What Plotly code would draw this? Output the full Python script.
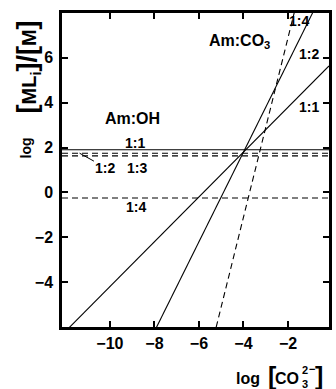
import numpy as np
import plotly.graph_objects as go

# ---- data ----
x_range = [-12.15, -0.16]
y_range = [-6, 8]
x_ticks = [-10, -8, -6, -4, -2]
y_ticks = [-4, -2, 0, 2, 4, 6]

# Am:CO3 complexes: log([ML_n]/[M]) = log_beta_n + n*log[CO3]
co3_labels = ["1:1", "1:2", "1:4"]
co3_n = [1, 2, 4]
co3_logbeta = [5.8, 9.8, 14.9]
co3_dash = ["solid", "solid", "dash"]

# Am:OH complexes: constant levels
oh_labels = ["1:1", "1:2", "1:3", "1:4"]
oh_level = [1.9, 1.75, 1.63, -0.25]
oh_dash = ["solid", "dash", "dash", "dash"]

FONT = "Liberation Sans, Arial, sans-serif"
W, H = 336, 389
L, R, T, B = 62, 4, 13, 62

fig = go.Figure()
xs = np.array(x_range)
for lab, n, lb, d in zip(co3_labels, co3_n, co3_logbeta, co3_dash):
    fig.add_trace(go.Scatter(x=xs, y=lb + n * xs, mode="lines", name="CO3 " + lab,
                             line=dict(color="black", width=1.1,
                                       dash="6px,4px" if d == "dash" else "solid")))
for lab, lv, d in zip(oh_labels, oh_level, oh_dash):
    fig.add_trace(go.Scatter(x=xs, y=[lv, lv], mode="lines", name="OH " + lab,
                             line=dict(color="black", width=1.1,
                                       dash="6px,4px" if d == "dash" else "solid")))

tf = dict(family=FONT, size=16, color="black", weight="bold")
axis_common = dict(showline=True, linewidth=2.5, linecolor="black", mirror="ticks",
                   ticks="inside", ticklen=6, tickwidth=1.5, tickcolor="black",
                   showgrid=False, zeroline=False, tickfont=tf)
fig.update_xaxes(range=x_range, tickvals=x_ticks, ticklabelstandoff=0, **axis_common)
fig.update_yaxes(range=y_range, tickvals=y_ticks, ticklabelstandoff=3, **axis_common)

def px2paper(px, py):
    return (px - L) / (W - L - R), (H - B - py) / (H - T - B)

ann = []
lab_font = dict(family=FONT, size=14, color="black", weight="bold")
big_font = dict(family=FONT, size=16, color="black", weight="bold")
# in-plot labels (data coordinates)
ann.append(dict(x=-9.0, y=3.3, text="Am:OH", font=big_font))
ann.append(dict(x=-8.87, y=2.22, text=oh_labels[0], font=lab_font))
ann.append(dict(x=-11.36, y=oh_level[1], ax=-10.2, ay=1.11, axref="x", ayref="y",
                text=oh_labels[1], font=lab_font, showarrow=True, arrowhead=0,
                arrowwidth=1, arrowcolor="black", standoff=0))
ann.append(dict(x=-8.8, y=1.11, text=oh_labels[2], font=lab_font))
ann.append(dict(x=-8.83, y=-0.67, text=oh_labels[3], font=lab_font))
ann.append(dict(x=-4.2, y=6.75, text="Am:CO<sub>3</sub>", font=big_font))
ann.append(dict(x=-1.5, y=7.64, text=co3_labels[2], font=lab_font))
ann.append(dict(x=-1.07, y=6.16, text=co3_labels[1], font=lab_font))
ann.append(dict(x=-1.05, y=3.79, text=co3_labels[0], font=lab_font))
for a in ann:
    a.setdefault("showarrow", False)
    a.setdefault("xref", "x")
    a.setdefault("yref", "y")

def paper_text(px, py, text, size, angle=0, xanchor="center", yanchor="middle"):
    x, y = px2paper(px, py)
    return dict(x=x, y=y, xref="paper", yref="paper", text=text, showarrow=False,
                textangle=angle, xanchor=xanchor, yanchor=yanchor,
                font=dict(family=FONT, size=size, color="black", weight="bold"))

BR = "<span style='font-size:27px'>{}</span>"
# y-axis title
ann.append(paper_text(26, 148, "log", 14, angle=-90))
ann.append(paper_text(28, 67, BR.format("[") + "ML<sub>i</sub>" + BR.format("]/[") + "M" + BR.format("]"),
                      20, angle=-90))
# x-axis title
ann.append(paper_text(250, 378, "log", 16))
ann.append(paper_text(268, 376, "[", 25, xanchor="left"))
ann.append(paper_text(275, 378, "CO", 16, xanchor="left"))
ann.append(paper_text(303, 370, "2", 11, xanchor="left"))
ann.append(paper_text(303, 384, "3", 11, xanchor="left"))
ann.append(paper_text(310, 369, "−", 11, xanchor="left"))
ann.append(paper_text(316, 376, "]", 25, xanchor="left"))

fig.update_layout(width=W, height=H, margin=dict(l=L, r=R, t=T, b=B),
                  plot_bgcolor="white", paper_bgcolor="white", showlegend=False,
                  annotations=ann)
fig.write_html("out.html", config={"displayModeBar": False},
               post_script="document.body.style.margin='0';document.body.style.overflow='hidden';")
